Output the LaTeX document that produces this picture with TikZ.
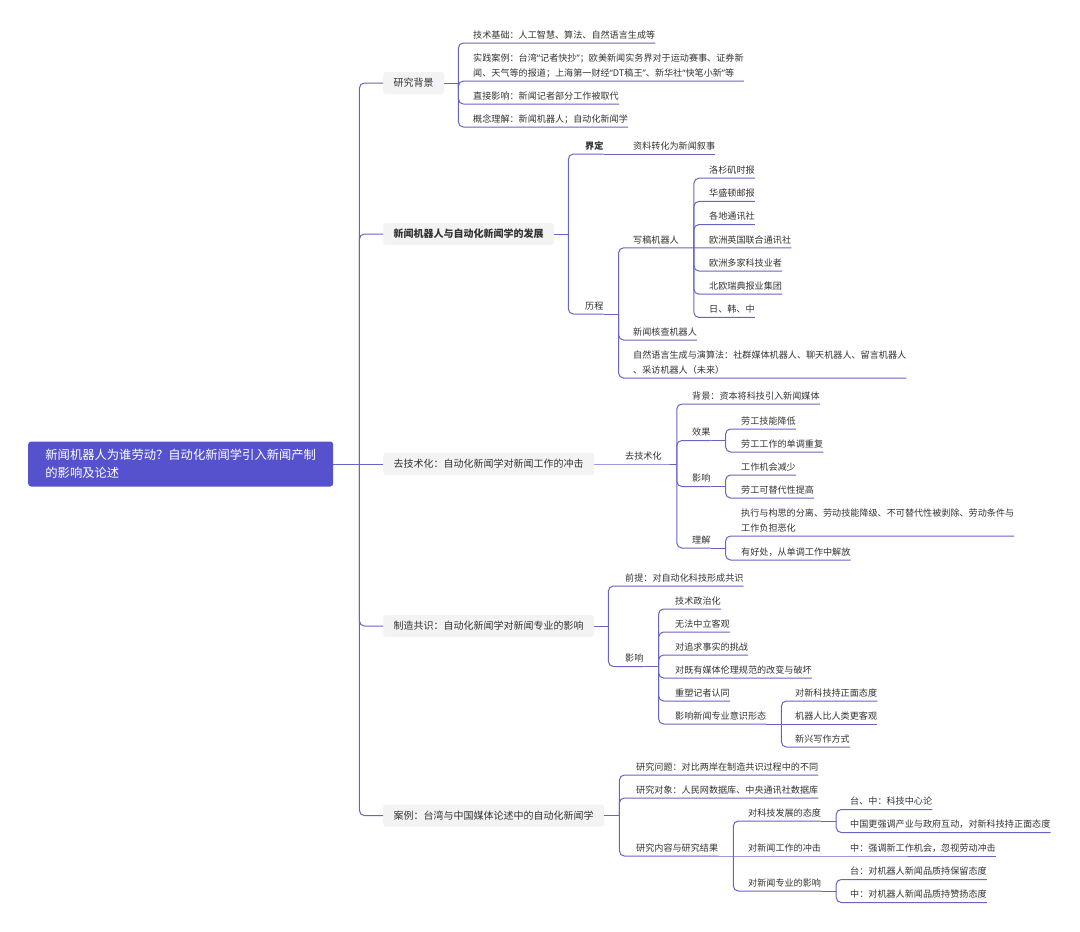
\documentclass[tikz,border=0pt]{standalone}
\usepackage{fontspec}
\newfontfamily\cjk{Noto Sans CJK SC}
\newfontfamily\latf{Noto Sans}
\newcommand\qopen{{\latf “}}
\newcommand\qclose{{\latf ”}}
\usepackage{tikz}
\usetikzlibrary{positioning}
\definecolor{linec}{RGB}{104,100,196}
\definecolor{rootc}{RGB}{86,82,206}
\definecolor{topicc}{RGB}{243,243,243}
\definecolor{textc}{RGB}{51,51,51}

\begin{document}
\begin{tikzpicture}[x=1pt, y=-1pt,
  root/.style={fill=rootc, rounded corners=3pt, text=white, anchor=west, minimum width=305pt, minimum height=45pt, align=left, font=\cjk\fontsize{12.3}{18}\selectfont},
  topic/.style={fill=topicc, rounded corners=3pt, anchor=west, inner xsep=10.5pt, minimum height=22pt, text=textc, font=\cjk\fontsize{10}{12}\selectfont},
  leaf/.style={anchor=south west, inner xsep=0pt, inner ysep=0pt, text depth=4.5pt, text=textc, align=left, font=\cjk\fontsize{9.1}{15}\selectfont},
  link/.style={draw=linec, line width=1pt},
  elbow/.style={link, rounded corners=5pt}]
  \fill[white] (0,0) rectangle (1080,932);

  % root and main topics
  \node[root] (R) at (28,464) {新闻机器人为谁劳动？自动化新闻学引入新闻产制\\的影响及论述};
  \node[topic] (T1) at (383,83) {研究背景};
  \node[topic] (T2) at (383,234) {\bfseries 新闻机器人与自动化新闻学的发展};
  \node[topic] (T3) at (383,464) {去技术化：自动化新闻学对新闻工作的冲击};
  \node[topic] (T4) at (383,626) {制造共识：自动化新闻学对新闻专业的影响};
  \node[topic] (T5) at (383,815.5) {案例：台湾与中国媒体论述中的自动化新闻学};
  \draw[link] (R.east) -- (T3.west);
  \foreach \t in {T1,T2,T4,T5}
    \draw[elbow] ([xshift=26pt]R.east) |- (\t.west);

  % 研究背景
  \node[leaf] (A1) at (473,43) {技术基础：人工智慧、算法、自然语言生成等};
  \node[leaf] (A2) at (473,81) {实践案例：台湾\qopen 记者快抄\qclose ；欧美新闻实务界对于运动赛事、证券新\\闻、天气等的报道；上海第一财经\qopen DT稿王\qclose 、新华社\qopen 快笔小新\qclose 等};
  \node[leaf] (A3) at (473,104) {直接影响：新闻记者部分工作被取代};
  \node[leaf] (A4) at (473,127) {概念理解：新闻机器人；自动化新闻学};
  \draw[link] (T1.east) -- ++(14,0);
  \foreach \c in {A1,A2,A3,A4}
    \draw[elbow] ([xshift=14pt]T1.east) |- (\c.south west) -- (\c.south east);

  % 新闻机器人与自动化新闻学的发展
  \node[leaf] (B1) at (585,154) {\bfseries 界定};
  \node[leaf] (B11) at (633,154) {资料转化为新闻叙事};
  \node[leaf] (B2) at (585,314) {历程};
  \node[leaf] (B21) at (633,247.8) {写稿机器人};
  \node[leaf] (B22) at (633,340) {新闻核查机器人};
  \node[leaf] (B23) at (633,378) {自然语言生成与演算法：社群媒体机器人、聊天机器人、留言机器人\\、采访机器人（未来）};
  \foreach \t [count=\i] in {洛杉矶时报,华盛顿邮报,各地通讯社,欧洲英国联合通讯社,欧洲多家科技业者,北欧瑞典报业集团,日、韩、中}
    \node[leaf] (W\i) at (709,155+23.2*\i) {\t};
  \draw[link] (T2.east) -- ++(14,0);
  \foreach \c in {B1,B2}
    \draw[elbow] ([xshift=14pt]T2.east) |- (\c.south west) -- (\c.south east);
  \draw[link] (B1.south east) -- (B11.south east);
  \draw[link] (B2.south east) -- ++(15,0);
  \foreach \c in {B21,B22,B23}
    \draw[elbow] ([xshift=15pt]B2.south east) |- (\c.south west) -- (\c.south east);
  \draw[link] (B21.south east) -- (W4.south east);
  \foreach \i in {1,2,3,5,6,7}
    \draw[elbow] ([xshift=15pt]B21.south east) |- (W\i.south west) -- (W\i.south east);

  % 去技术化
  \node[leaf] (C1) at (625,464) {去技术化};
  \node[leaf] (C11) at (692,404) {背景：资本将科技引入新闻媒体};
  \node[leaf] (C12) at (692,440.5) {效果};
  \node[leaf] (C13) at (692,486.5) {影响};
  \node[leaf] (C14) at (692,548) {理解};
  \node[leaf] (C121) at (741,429) {劳工技能降低};
  \node[leaf] (C122) at (741,452) {劳工工作的单调重复};
  \node[leaf] (C131) at (741,475) {工作机会减少};
  \node[leaf] (C132) at (741,498) {劳工可替代性提高};
  \node[leaf] (C141) at (741,536) {执行与构思的分离、劳动技能降级、不可替代性被剥除、劳动条件与\\工作负担恶化};
  \node[leaf] (C142) at (741,560) {有好处，从单调工作中解放};
  \draw[link] (T3.east) -- (C1.south east) -- ++(15,0);
  \foreach \c in {C11,C12,C13,C14}
    \draw[elbow] ([xshift=15pt]C1.south east) |- (\c.south west) -- (\c.south east);
  \foreach \p in {C12,C13,C14}
    \draw[link] (\p.south east) -- ++(15,0);
  \foreach \p/\c in {C12/C121,C12/C122,C13/C131,C13/C132,C14/C141,C14/C142}
    \draw[elbow] ([xshift=15pt]\p.south east) |- (\c.south west) -- (\c.south east);

  % 制造共识
  \node[leaf] (D1) at (625,586) {前提：对自动化科技形成共识};
  \node[leaf] (D2) at (625,666.5) {影响};
  \foreach \t [count=\i] in {技术政治化,无法中立客观,对追求事实的挑战,对既有媒体伦理规范的改变与破坏,重塑记者认同,影响新闻专业意识形态}
    \node[leaf] (D2\i) at (675,586+23*\i) {\t};
  \node[leaf] (D261) at (795,701) {对新科技持正面态度};
  \node[leaf] (D262) at (795,724) {机器人比人类更客观};
  \node[leaf] (D263) at (795,747) {新兴写作方式};
  \draw[link] (T4.east) -- ++(14,0);
  \foreach \c in {D1,D2}
    \draw[elbow] ([xshift=14pt]T4.east) |- (\c.south west) -- (\c.south east);
  \draw[link] (D2.south east) -- ++(15,0);
  \foreach \i in {1,...,6}
    \draw[elbow] ([xshift=15pt]D2.south east) |- (D2\i.south west) -- (D2\i.south east);
  \draw[link] (D26.south east) -- (D262.south east);
  \foreach \c in {D261,D263}
    \draw[elbow] ([xshift=15pt]D26.south east) |- (\c.south west) -- (\c.south east);

  % 案例
  \node[leaf] (E1) at (636,775) {研究问题：对比两岸在制造共识过程中的不同};
  \node[leaf] (E2) at (636,798) {研究对象：人民网数据库、中央通讯社数据库};
  \node[leaf] (E3) at (636,856) {研究内容与研究结果};
  \node[leaf] (E31) at (748,821) {对科技发展的态度};
  \node[leaf] (E32) at (748,856) {对新闻工作的冲击};
  \node[leaf] (E33) at (748,891) {对新闻专业的影响};
  \node[leaf] (E311) at (850,809.5) {台、中：科技中心论};
  \node[leaf] (E312) at (850,832.5) {中国更强调产业与政府互动，对新科技持正面态度};
  \node[leaf] (E321) at (850,856) {中：强调新工作机会，忽视劳动冲击};
  \node[leaf] (E331) at (850,879.5) {台：对机器人新闻品质持保留态度};
  \node[leaf] (E332) at (850,902.5) {中：对机器人新闻品质持赞扬态度};
  \draw[link] (T5.east) -- ++(15,0);
  \foreach \c in {E1,E2,E3}
    \draw[elbow] ([xshift=15pt]T5.east) |- (\c.south west) -- (\c.south east);
  \draw[link] (E3.south east) -- (E32.south east) -- (E321.south east);
  \foreach \c in {E31,E33}
    \draw[elbow] ([xshift=15pt]E3.south east) |- (\c.south west) -- (\c.south east);
  \foreach \p in {E31,E33}
    \draw[link] (\p.south east) -- ++(15,0);
  \foreach \p/\c in {E31/E311,E31/E312,E33/E331,E33/E332}
    \draw[elbow] ([xshift=15pt]\p.south east) |- (\c.south west) -- (\c.south east);
\end{tikzpicture}
\end{document}
